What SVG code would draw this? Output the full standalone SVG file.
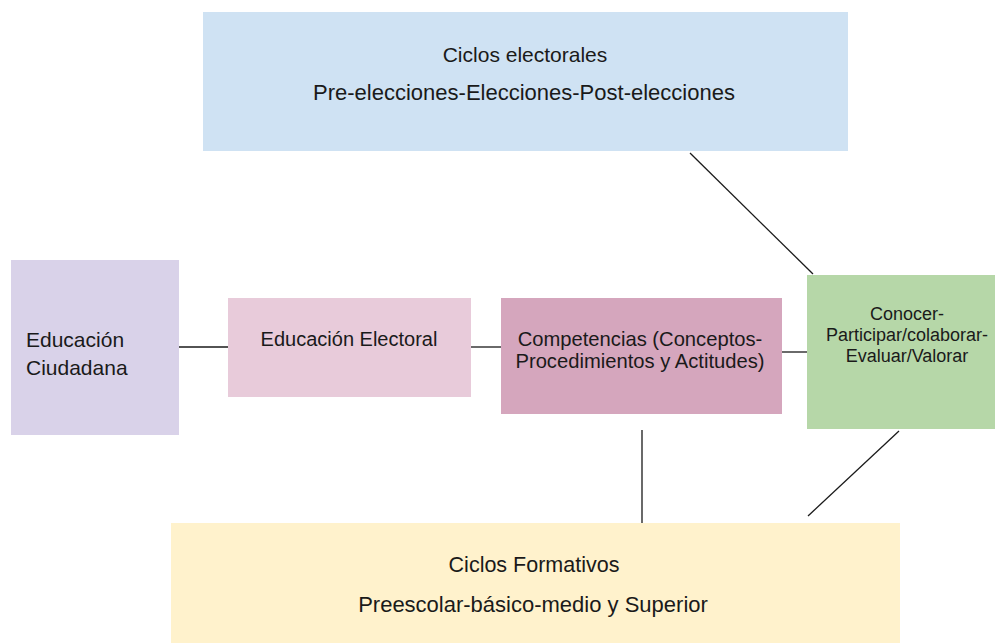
<svg xmlns="http://www.w3.org/2000/svg" width="995" height="643" viewBox="0 0 995 643">
<style>
text{font-family:"Liberation Sans",Arial,sans-serif;fill:#1a1a1a}
.c{text-anchor:middle}
.ln{stroke:#1a1a1a;stroke-width:1.3;fill:none}
</style>
<rect width="995" height="643" fill="#ffffff"/>
<g id="connectors">
<line class="ln" x1="179" y1="347" x2="228" y2="347"/>
<line class="ln" x1="471" y1="347" x2="501" y2="347"/>
<line class="ln" x1="782" y1="352" x2="807" y2="352"/>
<line class="ln" x1="690" y1="153" x2="813" y2="274"/>
<line class="ln" x1="642" y1="430" x2="642" y2="527"/>
<line class="ln" x1="899" y1="431" x2="808" y2="516"/>
</g>
<g id="ciclos-electorales">
<rect x="203" y="12" width="645" height="139" fill="#cfe2f3"/>
<text class="c" x="525" y="62" font-size="21">Ciclos electorales</text>
<text class="c" x="524" y="100" font-size="22">Pre-elecciones-Elecciones-Post-elecciones</text>
</g>
<g id="educacion-ciudadana">
<rect x="11" y="260" width="168" height="175" fill="#d9d2e9"/>
<text x="26" y="347" font-size="21">Educación</text>
<text x="26" y="375" font-size="21">Ciudadana</text>
</g>
<g id="educacion-electoral">
<rect x="228" y="298" width="243" height="99" fill="#e8cbda"/>
<text class="c" x="349" y="346" font-size="20">Educación Electoral</text>
</g>
<g id="competencias">
<rect x="501" y="298" width="281" height="116" fill="#d5a6bd"/>
<text class="c" x="640" y="346" font-size="20.2">Competencias (Conceptos-</text>
<text class="c" x="640" y="368" font-size="20.2">Procedimientos y Actitudes)</text>
</g>
<g id="conocer">
<rect x="807" y="275" width="188" height="154" fill="#b6d7a8"/>
<text class="c" x="907" y="320" font-size="18">Conocer-</text>
<text class="c" x="907" y="341" font-size="18">Participar/colaborar-</text>
<text class="c" x="907" y="362" font-size="18">Evaluar/Valorar</text>
</g>
<g id="ciclos-formativos">
<rect x="171" y="523" width="729" height="120" fill="#fff2cc"/>
<text class="c" x="534" y="572" font-size="21.5">Ciclos Formativos</text>
<text class="c" x="533" y="612" font-size="22">Preescolar-básico-medio y Superior</text>
</g>
</svg>
